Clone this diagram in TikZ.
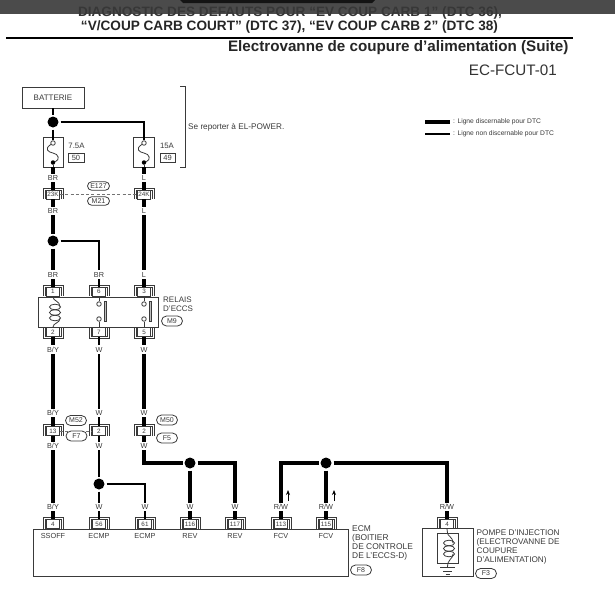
\documentclass[tikz,border=0pt]{standalone}
\usepackage{fontspec}
\setmainfont{Liberation Sans}
\usetikzlibrary{arrows.meta,shapes.misc,calc}
\newcommand\fsz[1]{\fontsize{#1}{#1}\selectfont}
\definecolor{ink}{HTML}{3A3A3A}
\tikzset{
  x=1pt,y=-1pt,
  every node/.style={inner sep=0pt,text=ink},
  thinbox/.style={draw=ink,line width=0.8pt,fill=white},
  pinbox/.style={thinbox,minimum width=13.5pt,minimum height=9pt,font=\fsz{6.3}},
  capsule/.style={rounded rectangle,draw=ink,line width=0.8pt,fill=white,minimum width=21pt,minimum height=10pt,font=\fsz{7}},
  wirelab/.style={fill=white,inner xsep=1pt,inner ysep=1.5pt,font=\fsz{7.3}},
  pinname/.style={font=\fsz{7.3}},
  plaintxt/.style={font=\fsz{8},align=left,anchor=north west},
  thickw/.style={draw=black,line width=4.4pt,line join=miter},
  midw/.style={draw=black,line width=2.8pt,line join=miter},
  thinw/.style={draw=black,line width=1.9pt,line join=miter},
  jdot/.style={circle,fill=black,minimum size=11pt,outer sep=2pt},
  hole/.style={circle,draw=ink,fill=white,line width=0.8pt,minimum size=4.5pt},
  bdot/.style={circle,fill=black,minimum size=4.5pt},
  shell/.style={draw=ink,line width=0.8pt},
  coilw/.style={draw=ink,line width=0.8pt},
  dashlink/.style={draw=black!55,line width=0.9pt,dash pattern=on 3pt off 2.2pt},
}
% inverted-U shell above a pin, upright-U shell below a pin
\newcommand\pinT[4]{%
  \draw[shell] (#2-10,#3+4.5)--(#2-10,#3-6.5)--(#2+10,#3-6.5)--(#2+10,#3+4.5);
  \draw[shell] (#2-8,#3+4.5)--(#2-8,#3-4.5)--(#2+8,#3-4.5)--(#2+8,#3+4.5);
  \node[pinbox] (#1) at (#2,#3) {#4};}
\newcommand\pinB[4]{%
  \draw[shell] (#2-10,#3-4.5)--(#2-10,#3+6.5)--(#2+10,#3+6.5)--(#2+10,#3-4.5);
  \draw[shell] (#2-8,#3-4.5)--(#2-8,#3+4.5)--(#2+8,#3+4.5)--(#2+8,#3-4.5);
  \node[pinbox] (#1) at (#2,#3) {#4};}
\begin{document}
\begin{tikzpicture}
\useasboundingbox (0,0) rectangle (615,600);
\fill[white] (0,0) rectangle (615,600);

% ---- heading
\node[font=\bfseries\fsz{13.6},text=black!80] (t1) at (290,12.7) {DIAGNOSTIC DES DEFAUTS POUR “EV COUP CARB 1” (DTC 36),};
\fill[black!78,opacity=.9] (0,0) rectangle (615,14);
\fill[black!92] (180,0) -- (375,0) -- (372,3) -- (183,3) -- cycle;
\node[font=\bfseries\fsz{13.6},text=black!85] (t2) at (289.5,26.7) {“V/COUP CARB COURT” (DTC 37), “EV COUP CARB 2” (DTC 38)};
\coordinate (ruleL) at (6,37.7);
\coordinate (ruleR) at (573,37.7);
\draw[black,line width=1.7pt] (ruleL) -- (ruleR);
\node[font=\bfseries\fsz{15.2},text=black!85,anchor=east] (t3) at (568.6,47.3) {Electrovanne de coupure d’alimentation (Suite)};
\node[font=\fsz{15.2},text=black!80,anchor=east] (t4) at (557,70.7) {EC-FCUT-01};

% ---- legend
\coordinate (lgA) at (425,122);
\coordinate (lgB) at (450,122);
\coordinate (lgC) at (425,134);
\coordinate (lgD) at (450,134);
\draw[black,line width=4.4pt] (lgA) -- (lgB);
\draw[black,line width=1.9pt] (lgC) -- (lgD);
\node[font=\fsz{6.7},anchor=west] (lg1) at (453,122) {: Ligne discernable pour DTC};
\node[font=\fsz{6.7},anchor=west] (lg2) at (453,134) {: Ligne non discernable pour DTC};

% ---- battery, fuses
\node[thinbox,minimum width=62pt,minimum height=21pt,font=\fsz{8}] (bat) at (53,97.5) {BATTERIE};
\node[jdot] (d1) at (53,122) {};
\node[thinbox,minimum width=20pt,minimum height=30pt] (f50) at (53,152) {};
\node[thinbox,minimum width=21pt,minimum height=30pt] (f49) at (144,152) {};
\node[font=\fsz{7.8}] (a75) at (76.5,146) {7.5A};
\node[thinbox,minimum width=16pt,minimum height=9pt,font=\fsz{7.5}] (n50) at (76,157.5) {50};
\node[font=\fsz{7.8}] (a15) at (167,146) {15A};
\node[thinbox,minimum width=15pt,minimum height=9pt,font=\fsz{7.5}] (n49) at (167.5,157.5) {49};
\foreach \n/\X in {50/53,49/144}{
  \node[hole] (h\n) at (\X,143) {};
  \node[bdot] (b\n) at (\X,162.5) {};
  \draw[coilw] (h\n) .. controls (\X-9,149) and (\X-5,152) .. (\X,153) .. controls (\X+6,154) and (\X+7,160) .. (b\n);
}
\coordinate (brA) at (180,86);
\coordinate (brB) at (185,86);
\coordinate (brC) at (185,167);
\coordinate (brD) at (180,167);
\draw[shell] (brA) -- (brB) -- (brC) -- (brD);
\node[font=\fsz{8.2},anchor=west] (sr) at (188,127) {Se reporter à EL-POWER.};

% ---- inline connector E127/M21
\pinT{p23}{53}{194.5}{23K}
\pinT{p24}{144}{194.5}{24K}
\draw[dashlink] (p23.east) -- (p24.west);
\node[capsule,minimum width=22pt,minimum height=8.5pt] (e127) at (98.5,186) {E127};
\node[capsule,minimum width=22pt,minimum height=8.5pt] (m21) at (98.5,201) {M21};

% ---- relay
\node[thinbox,minimum width=120pt,minimum height=30pt] (relay) at (98,312) {};
\pinT{p1}{53}{291.5}{1}
\pinT{p6}{99}{291.5}{6}
\pinT{p3}{144}{291.5}{3}
\pinB{p2}{53}{332}{2}
\pinB{p7}{99}{332}{7}
\pinB{p5}{144}{332}{5}
\foreach \k/\X in {a/99,b/144}{
  \node[hole] (s\k1) at (\X,304) {};
  \node[hole] (s\k2) at (\X,319) {};
  \node[draw=ink,line width=0.8pt,fill=black!25,minimum width=2.5pt,minimum height=20pt] (bar\k) at (\X+6.5,311) {};
  \draw[coilw] (\X,297) -- (s\k1);
  \draw[coilw] (s\k2) -- (\X,327);
}
\draw[coilw] (53,297) .. controls (53,301) and (60,301) .. (60,306.5);
\draw[coilw] (60,318.5) .. controls (60,323) and (53,323) .. (53,327);
\foreach \Y in {307,312.5,318}{\draw[coilw] (55,\Y) ellipse (5.5 and 2.8);}
\node[plaintxt] (rtxt) at (163,297) {RELAIS\\[1.2pt]D’ECCS};
\node[capsule] (m9) at (172,321) {M9};

% ---- middle connectors
\pinT{p13}{53}{431}{13}
\pinT{p2a}{99}{431}{2}
\pinT{p2b}{144}{431}{2}
\draw[dashlink] (p13.east) -- (p2a.west);
\node[capsule] (m52) at (76,420.5) {M52};
\node[capsule] (f7) at (76.5,436) {F7};
\node[capsule] (m50) at (167,420) {M50};
\node[capsule] (f5) at (167,438) {F5};

% ---- ECM
\node[thinbox,minimum width=315pt,minimum height=47pt,anchor=north west] (ecm) at (33,529) {};
\pinT{p4}{53}{524}{4}
\pinT{p56}{99}{524}{56}
\pinT{p61}{145}{524}{61}
\pinT{p116}{190}{524}{116}
\pinT{p117}{235}{524}{117}
\pinT{p113}{281}{524}{113}
\pinT{p115}{326}{524}{115}
\node[pinname] (l1) at (53,535.5) {SSOFF};
\node[pinname] (l2) at (99,535.5) {ECMP};
\node[pinname] (l3) at (145,535.5) {ECMP};
\node[pinname] (l4) at (190,535.5) {REV};
\node[pinname] (l5) at (235,535.5) {REV};
\node[pinname] (l6) at (281,535.5) {FCV};
\node[pinname] (l7) at (326,535.5) {FCV};
\node[font=\fsz{8.4},align=left,anchor=north west] (etxt) at (352,525) {ECM\\[0.9pt](BOITIER\\[0.9pt]DE CONTROLE\\[0.9pt]DE L’ECCS-D)};
\node[capsule] (f8) at (361,570) {F8};

% ---- pump
\node[thinbox,minimum width=51pt,minimum height=48pt,anchor=north west] (pump) at (422,528) {};
\node[thinbox,minimum width=21pt,minimum height=30pt] (pcoil) at (447.5,548) {};
\pinT{p4p}{447}{524}{4}
\coordinate (pcA) at (447.5,533);
\coordinate (pcB) at (447.5,567);
\draw[coilw] (p4p.south) -- (pcA) .. controls (447.5,536) and (453,537) .. (453,543);
\draw[coilw] (453,554) .. controls (453,559) and (447.5,559) .. (pcB);
\foreach \Y in {543,548.5,554}{\draw[coilw] (449,\Y) ellipse (5.5 and 2.8);}
\draw[coilw] (440,567) -- (455,567);
\draw[coilw] (443,571) -- (452,571);
\draw[coilw] (445.5,574.5) -- (449.5,574.5);
\node[font=\fsz{8.2},align=left,anchor=north west] (ptxt) at (476.5,530) {POMPE D’INJECTION\\[0.8pt](ELECTROVANNE DE\\[0.8pt]COUPURE\\[0.8pt]D’ALIMENTATION)};
\node[capsule] (f3) at (486,573.5) {F3};

% ---- junctions
\node[jdot] (d2) at (53,241) {};
\node[jdot] (d3) at (190,463) {};
\node[jdot] (d4) at (326,463) {};
\node[jdot] (d5) at (99,484) {};

% ---- wires
\draw[midw] (bat) -- (d1);
\draw[midw] (d1) -- (h50);
\draw[thinw] (d1.east) -| (h49.north);
\draw[thickw] (f50.south) -- (p23.north);
\draw[thickw] (f49.south) -- (p24.north);
\draw[coilw] (b50) -- (f50.south);
\draw[coilw] (b49) -- (f49.south);
\draw[thickw] (p23.south) -- (d2);
\draw[thickw] (d2) -- (p1.north);
\draw[thinw] (d2.east) -| (p6.north);
\draw[thickw] (p24.south) -- (p3.north);
\draw[thickw] (p2.south) -- (p13.north);
\draw[thinw] (p7.south) -- (p2a.north);
\draw[thickw] (p5.south) -- (p2b.north);
\draw[thickw] (p13.south) -- (p4.north);
\draw[thinw] (p2a.south) -- (d5);
\draw[thinw] (d5) -- (p56.north);
\draw[thinw] (d5.east) -| (p61.north);
\draw[thickw] (p2b.south) |- (d3.west);
\draw[thickw] (d3.east) -| (p117.north);
\draw[thickw] (d3) -- (p116.north);
\draw[thickw] (d4.west) -| (p113.north);
\draw[thickw] (d4) -- (p115.north);
\draw[thickw] (d4.east) -| (p4p.north);

% ---- current arrows
\coordinate (ar1a) at (288,501);
\coordinate (ar1b) at (288,490);
\coordinate (ar2a) at (334,501);
\coordinate (ar2b) at (334,490);
\draw[black,line width=1pt,-{Stealth[length=5pt,width=4pt]}] (ar1a) -- (ar1b);
\draw[black,line width=1pt,-{Stealth[length=5pt,width=4pt]}] (ar2a) -- (ar2b);

% ---- wire colour labels
\node[wirelab] (w1) at (53,178) {BR};
\node[wirelab] (w2) at (144,178) {L};
\node[wirelab] (w3) at (53,211) {BR};
\node[wirelab] (w4) at (144,211) {L};
\node[wirelab] (w5) at (53,274.5) {BR};
\node[wirelab] (w6) at (99,274.5) {BR};
\node[wirelab] (w7) at (144,274.5) {L};
\node[wirelab] (w8) at (53,349.5) {B/Y};
\node[wirelab] (w9) at (99,349.5) {W};
\node[wirelab] (w10) at (144,349.5) {W};
\node[wirelab] (w11) at (53,413) {B/Y};
\node[wirelab] (w12) at (99,413) {W};
\node[wirelab] (w13) at (144,413) {W};
\node[wirelab] (w14) at (53,446) {B/Y};
\node[wirelab] (w15) at (99,446) {W};
\node[wirelab] (w16) at (144,446) {W};
\node[wirelab] (w17) at (53,507) {B/Y};
\node[wirelab] (w18) at (99,507) {W};
\node[wirelab] (w19) at (145,507) {W};
\node[wirelab] (w20) at (190,507) {W};
\node[wirelab] (w21) at (235,507) {W};
\node[wirelab] (w22) at (281,507) {R/W};
\node[wirelab] (w23) at (326,507) {R/W};
\node[wirelab] (w24) at (447,507) {R/W};
\end{tikzpicture}
\end{document}
